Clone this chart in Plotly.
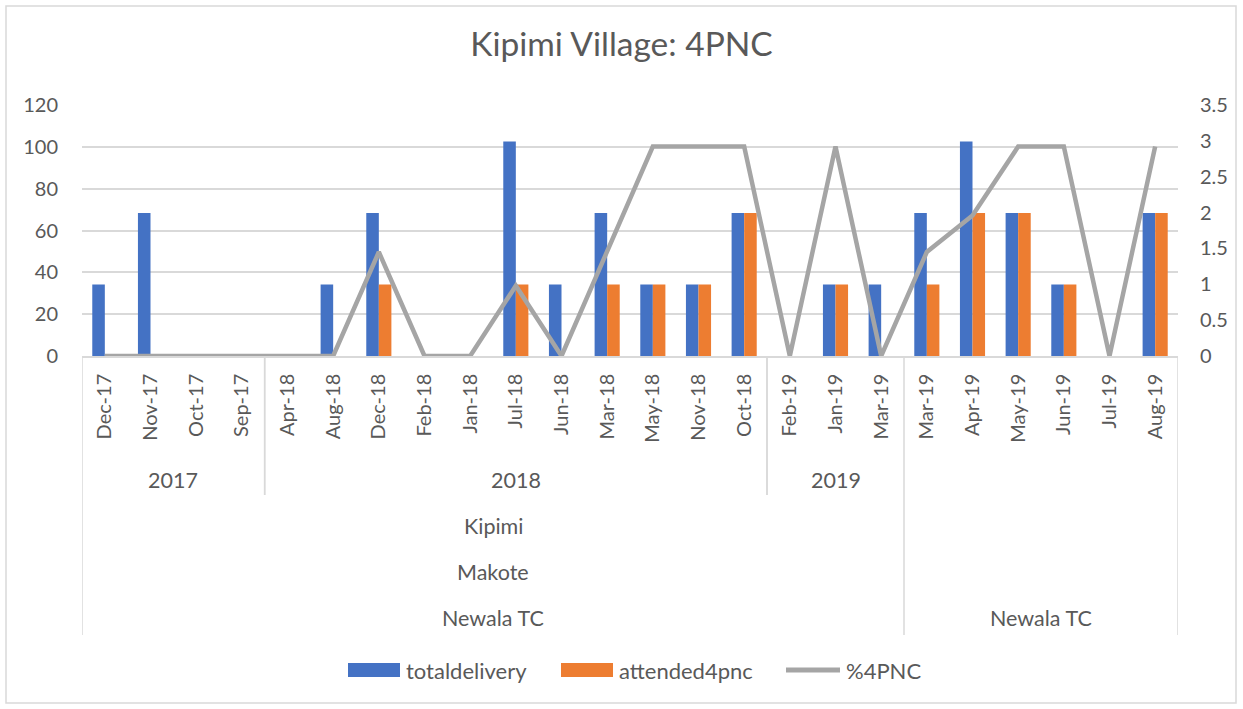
import plotly.graph_objects as go

months = ["Dec-17", "Nov-17", "Oct-17", "Sep-17",
          "Apr-18", "Aug-18", "Dec-18", "Feb-18", "Jan-18", "Jul-18", "Jun-18",
          "Mar-18", "May-18", "Nov-18", "Oct-18",
          "Feb-19", "Jan-19", "Mar-19",
          "Mar-19", "Apr-19", "May-19", "Jun-19", "Jul-19", "Aug-19"]
years = ["2017"] * 4 + ["2018"] * 11 + ["2019"] * 3 + [""] * 6
village = ["Kipimi"] * 18 + [""] * 6
ward = ["Makote"] * 18 + [""] * 6
council = ["Newala TC"] * 18 + ["Newala TC"] * 6

totaldelivery = [34.2, 68.4, 0, 0,
                 0, 34.2, 68.4, 0, 0, 102.6, 34.2, 68.4, 34.2, 34.2, 68.4,
                 0, 34.2, 34.2,
                 68.4, 102.6, 68.4, 34.2, 0, 68.4]
attended4pnc = [0, 0, 0, 0,
                0, 0, 34.2, 0, 0, 34.2, 0, 34.2, 34.2, 34.2, 68.4,
                0, 34.2, 0,
                34.2, 68.4, 68.4, 34.2, 0, 68.4]
pct4pnc = [0, 0, 0, 0,
           0, 0, 1.45, 0, 0, 0.98, 0, 1.45, 2.92, 2.92, 2.92,
           0, 2.92, 0,
           1.45, 1.96, 2.92, 2.92, 0, 2.92]

series_names = ["totaldelivery", "attended4pnc", "%4PNC"]

FONT = "Lato, Calibri, Carlito, sans-serif"
TXT = "#595959"
GRID = "#D9D9D9"
BLUE, ORANGE, GRAY = "#4472C4", "#ED7D31", "#A5A5A5"

idx = list(range(len(months)))

# plot-area pixel geometry (for paper coordinate conversion)
L, R, T, B = 82, 1178, 105, 356
W, H = R - L, B - T


def px_x(p):
    return (p - L) / W


def px_y(p):
    return (B - p) / H


fig = go.Figure()
fig.add_trace(go.Bar(x=idx, y=totaldelivery, name=series_names[0],
                     marker=dict(color=BLUE, line=dict(width=0))))
fig.add_trace(go.Bar(x=idx, y=attended4pnc, name=series_names[1],
                     marker=dict(color=ORANGE, line=dict(width=0))))
fig.add_trace(go.Scatter(x=idx, y=pct4pnc, name=series_names[2], mode="lines",
                         yaxis="y2", line=dict(color=GRAY, width=4.5)))


def spans(labels):
    out = []
    start = 0
    for i in range(1, len(labels) + 1):
        if i == len(labels) or labels[i] != labels[start]:
            out.append((labels[start], start, i - 1))
            start = i
    return out


annotations = []
shapes = []
HFONT = dict(family=FONT, size=21.5, color=TXT)

# year row
for lab, s, e in spans(years):
    if lab:
        annotations.append(dict(x=(s + e) / 2, y=px_y(480), xref="x", yref="paper",
                                xanchor="center", yanchor="middle",
                                text=lab, showarrow=False, font=HFONT))
# upper hierarchy rows
groups = spans([f"{v}|{w}|{c}" for v, w, c in zip(village, ward, council)])
for key, s, e in groups:
    v, w, c = key.split("|")
    for lab, py in ((v, 526), (w, 572), (c, 618)):
        if lab:
            annotations.append(dict(x=(s + e) / 2, y=px_y(py), xref="x", yref="paper",
                                    xanchor="center", yanchor="middle",
                                    text=lab, showarrow=False, font=HFONT))

# divider lines
group_bounds = set()
for key, s, e in groups:
    group_bounds.add(s - 0.5)
    group_bounds.add(e + 0.5)
for b in sorted(group_bounds):
    shapes.append(dict(type="line", xref="x", yref="paper", x0=b, x1=b,
                       y0=0, y1=px_y(635), line=dict(color=GRID, width=1.5)))
for lab, s, e in spans(years):
    for b in (s - 0.5, e + 0.5):
        if b not in group_bounds:
            shapes.append(dict(type="line", xref="x", yref="paper", x0=b, x1=b,
                               y0=0, y1=px_y(495), line=dict(color=GRID, width=1.5)))

# legend drawn like the original (wide swatches)
LEG_Y = 670
legend_items = [(series_names[0], BLUE, "rect", 348, 400),
                (series_names[1], ORANGE, "rect", 561, 613),
                (series_names[2], GRAY, "line", 786, 840)]
for nm, col, kind, x0, x1 in legend_items:
    if kind == "rect":
        shapes.append(dict(type="rect", xref="paper", yref="paper",
                           x0=px_x(x0), x1=px_x(x1), y0=px_y(LEG_Y + 7), y1=px_y(LEG_Y - 7),
                           line=dict(width=0), fillcolor=col))
    else:
        shapes.append(dict(type="line", xref="paper", yref="paper",
                           x0=px_x(x0), x1=px_x(x1), y0=px_y(LEG_Y), y1=px_y(LEG_Y),
                           line=dict(color=col, width=5)))
    annotations.append(dict(x=px_x(x1 + 4), y=px_y(LEG_Y), xref="paper", yref="paper",
                            xanchor="left", yanchor="middle", text=nm, showarrow=False,
                            font=dict(family=FONT, size=22, color=TXT)))

# outer chart border
shapes.append(dict(type="rect", xref="paper", yref="paper",
                   x0=px_x(6), x1=px_x(1236), y0=px_y(703), y1=px_y(6),
                   line=dict(color=GRID, width=1.5), fillcolor="rgba(0,0,0,0)"))

fig.update_layout(
    width=1243, height=709,
    margin=dict(l=L, r=1243 - R, t=T, b=709 - B, autoexpand=False),
    paper_bgcolor="white", plot_bgcolor="white",
    barmode="group", bargap=0.45, bargroupgap=0,
    showlegend=False,
    title=dict(text="Kipimi Village: 4PNC", x=0.5, xanchor="center",
               y=1 - 44 / 709, yanchor="middle",
               font=dict(family=FONT, size=33.5, color=TXT)),
    font=dict(family=FONT, color=TXT),
    xaxis=dict(range=[-0.5, len(months) - 0.5], tickmode="array", tickvals=idx,
               ticktext=months, tickangle=-90, showgrid=False, zeroline=False,
               showline=True, linecolor=GRID, linewidth=1.5, ticks="",
               ticklabelstandoff=8,
               tickfont=dict(family=FONT, size=20, color=TXT)),
    yaxis=dict(range=[0, 120], dtick=20, showgrid=True, gridcolor=GRID, gridwidth=1.5,
               zeroline=False, showline=False, ticks="", ticklabelstandoff=23,
               tickfont=dict(family=FONT, size=20, color=TXT)),
    yaxis2=dict(range=[0, 3.5], dtick=0.5, overlaying="y", side="right",
                showgrid=False, zeroline=False, showline=False, ticks="",
                ticklabelstandoff=21,
                tickfont=dict(family=FONT, size=20, color=TXT)),
    annotations=annotations,
    shapes=shapes,
)

fig.write_html("out.html", config={"displayModeBar": False},
               post_script="document.body.style.margin='0';")
